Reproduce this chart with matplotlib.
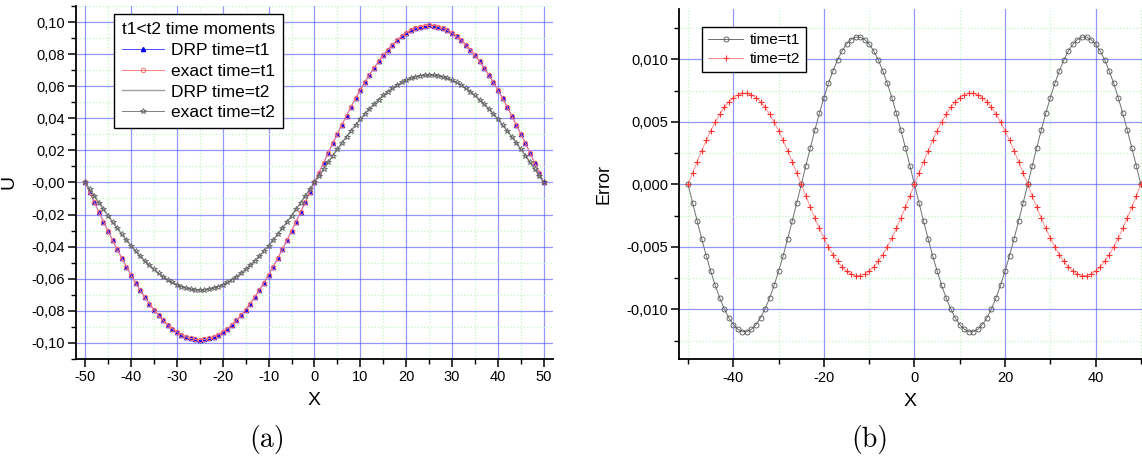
import matplotlib
matplotlib.use("Agg")
import matplotlib.pyplot as plt
from matplotlib.ticker import MultipleLocator, FuncFormatter

plt.rcParams['font.family'] = ['Liberation Sans', 'DejaVu Sans']
plt.rcParams['axes.unicode_minus'] = False

# grid points x = -50 ... 50
x = list(range(-50, 51))

# solution at time t1 (DRP and exact coincide at plot scale)
u_t1 = [
    0.0000, -0.0062, -0.0123, -0.0184, -0.0244, -0.0303, -0.0361, -0.0417, -0.0472, -0.0525,
    -0.0576, -0.0625, -0.0671, -0.0714, -0.0755, -0.0793, -0.0827, -0.0859, -0.0887, -0.0911,
    -0.0932, -0.0949, -0.0963, -0.0972, -0.0978, -0.0980,
    -0.0978, -0.0972, -0.0963, -0.0949, -0.0932, -0.0911, -0.0887, -0.0859, -0.0827, -0.0793,
    -0.0755, -0.0714, -0.0671, -0.0625, -0.0576, -0.0525, -0.0472, -0.0417, -0.0361, -0.0303,
    -0.0244, -0.0184, -0.0123, -0.0062,
    0.0000,
    0.0062, 0.0123, 0.0184, 0.0244, 0.0303, 0.0361, 0.0417, 0.0472, 0.0525, 0.0576,
    0.0625, 0.0671, 0.0714, 0.0755, 0.0793, 0.0827, 0.0859, 0.0887, 0.0911, 0.0932,
    0.0949, 0.0963, 0.0972, 0.0978, 0.0980,
    0.0978, 0.0972, 0.0963, 0.0949, 0.0932, 0.0911, 0.0887, 0.0859, 0.0827, 0.0793,
    0.0755, 0.0714, 0.0671, 0.0625, 0.0576, 0.0525, 0.0472, 0.0417, 0.0361, 0.0303,
    0.0244, 0.0184, 0.0123, 0.0062, 0.0000,
]

# solution at time t2
u_t2 = [
    0.0000, -0.0042, -0.0084, -0.0126, -0.0167, -0.0207, -0.0247, -0.0285, -0.0323, -0.0359,
    -0.0394, -0.0427, -0.0459, -0.0488, -0.0516, -0.0542, -0.0566, -0.0587, -0.0606, -0.0623,
    -0.0637, -0.0649, -0.0658, -0.0665, -0.0669, -0.0670,
    -0.0669, -0.0665, -0.0658, -0.0649, -0.0637, -0.0623, -0.0606, -0.0587, -0.0566, -0.0542,
    -0.0516, -0.0488, -0.0459, -0.0427, -0.0394, -0.0359, -0.0323, -0.0285, -0.0247, -0.0207,
    -0.0167, -0.0126, -0.0084, -0.0042,
    0.0000,
    0.0042, 0.0084, 0.0126, 0.0167, 0.0207, 0.0247, 0.0285, 0.0323, 0.0359, 0.0394,
    0.0427, 0.0459, 0.0488, 0.0516, 0.0542, 0.0566, 0.0587, 0.0606, 0.0623, 0.0637,
    0.0649, 0.0658, 0.0665, 0.0669, 0.0670,
    0.0669, 0.0665, 0.0658, 0.0649, 0.0637, 0.0623, 0.0606, 0.0587, 0.0566, 0.0542,
    0.0516, 0.0488, 0.0459, 0.0427, 0.0394, 0.0359, 0.0323, 0.0285, 0.0247, 0.0207,
    0.0167, 0.0126, 0.0084, 0.0042, 0.0000,
]

# DRP error at t1
err_t1 = [
    0.0, -0.00148, -0.00293, -0.00434, -0.00569, -0.00694, -0.00808, -0.00909, -0.00996, -0.01068,
    -0.01122, -0.01159, -0.01178, -0.01178, -0.01159, -0.01122, -0.01068, -0.00996, -0.00909, -0.00808,
    -0.00694, -0.00569, -0.00434, -0.00293, -0.00148, 0.0,
    0.00148, 0.00293, 0.00434, 0.00569, 0.00694, 0.00808, 0.00909, 0.00996, 0.01068, 0.01122,
    0.01159, 0.01178, 0.01178, 0.01159, 0.01122, 0.01068, 0.00996, 0.00909, 0.00808, 0.00694,
    0.00569, 0.00434, 0.00293, 0.00148,
    0.0,
    -0.00148, -0.00293, -0.00434, -0.00569, -0.00694, -0.00808, -0.00909, -0.00996, -0.01068, -0.01122,
    -0.01159, -0.01178, -0.01178, -0.01159, -0.01122, -0.01068, -0.00996, -0.00909, -0.00808, -0.00694,
    -0.00569, -0.00434, -0.00293, -0.00148, 0.0,
    0.00148, 0.00293, 0.00434, 0.00569, 0.00694, 0.00808, 0.00909, 0.00996, 0.01068, 0.01122,
    0.01159, 0.01178, 0.01178, 0.01159, 0.01122, 0.01068, 0.00996, 0.00909, 0.00808, 0.00694,
    0.00569, 0.00434, 0.00293, 0.00148, 0.0,
]

# DRP error at t2
err_t2 = [
    0.0, 0.00091, 0.00182, 0.00269, 0.00352, 0.00429, 0.00500, 0.00562, 0.00616, 0.00661,
    0.00694, 0.00717, 0.00729, 0.00729, 0.00717, 0.00694, 0.00661, 0.00616, 0.00562, 0.00500,
    0.00429, 0.00352, 0.00269, 0.00182, 0.00091, 0.0,
    -0.00091, -0.00182, -0.00269, -0.00352, -0.00429, -0.00500, -0.00562, -0.00616, -0.00661, -0.00694,
    -0.00717, -0.00729, -0.00729, -0.00717, -0.00694, -0.00661, -0.00616, -0.00562, -0.00500, -0.00429,
    -0.00352, -0.00269, -0.00182, -0.00091,
    0.0,
    0.00091, 0.00182, 0.00269, 0.00352, 0.00429, 0.00500, 0.00562, 0.00616, 0.00661, 0.00694,
    0.00717, 0.00729, 0.00729, 0.00717, 0.00694, 0.00661, 0.00616, 0.00562, 0.00500, 0.00429,
    0.00352, 0.00269, 0.00182, 0.00091, 0.0,
    -0.00091, -0.00182, -0.00269, -0.00352, -0.00429, -0.00500, -0.00562, -0.00616, -0.00661, -0.00694,
    -0.00717, -0.00729, -0.00729, -0.00717, -0.00694, -0.00661, -0.00616, -0.00562, -0.00500, -0.00429,
    -0.00352, -0.00269, -0.00182, -0.00091, 0.0,
]


def comma_fmt(decimals):
    return FuncFormatter(lambda v, pos: ('{:.%df}' % decimals).format(v).replace('.', ','))


def style_axes(ax):
    for side in ('top', 'right'):
        ax.spines[side].set_visible(False)
    for side in ('left', 'bottom'):
        ax.spines[side].set_linewidth(1.3)
    ax.tick_params(which='major', direction='out', length=6, width=1.1, labelsize=10.5, pad=2)
    ax.tick_params(which='minor', direction='out', length=3.5, width=1.0)
    ax.grid(which='major', color='#5050ff', alpha=0.6, linewidth=0.9)
    ax.grid(which='minor', color='#c4f4c4', linestyle=':', linewidth=0.9)
    ax.set_axisbelow(True)


fig = plt.figure(figsize=(11.42, 4.59), dpi=100)

# (a) solution
ax1 = fig.add_axes([0.0665, 0.218, 0.4177, 0.769])
ax1.plot(x, u_t1, color='#5050ff', lw=0.7, marker='^', ms=3.0, mfc='#0000ff', mec='#0000ff',
         label='DRP time=t1')
ax1.plot(x, u_t1, color='#ff8080', lw=0.7, marker='o', ms=3.2, mfc='none', mec='#ff7070', mew=0.7,
         label='exact time=t1')
ax1.plot(x, u_t2, color='#a0a0a0', lw=1.0, label='DRP time=t2')
ax1.plot(x, u_t2, color='#808080', lw=0.7, marker='*', ms=4.3, mfc='none', mec='#606060', mew=0.6,
         label='exact time=t2')
ax1.set_xlim(-52, 52)
ax1.set_ylim(-0.11, 0.11)
ax1.xaxis.set_major_locator(MultipleLocator(10))
ax1.xaxis.set_minor_locator(MultipleLocator(5))
ax1.yaxis.set_major_locator(MultipleLocator(0.02))
ax1.yaxis.set_minor_locator(MultipleLocator(0.01))
ax1.yaxis.set_major_formatter(comma_fmt(2))
style_axes(ax1)
ax1.set_xlabel('X', fontsize=14, labelpad=6)
ax1.set_ylabel('U', fontsize=14, labelpad=10)
leg1 = ax1.legend(title='t1<t2 time moments', loc='upper left', bbox_to_anchor=(0.08, 0.977),
                  borderaxespad=0, fontsize=12.5, title_fontsize=12.5, handlelength=2.4,
                  handletextpad=0.4, borderpad=0.45, labelspacing=0.33, fancybox=False,
                  framealpha=1, edgecolor='black')
leg1.get_frame().set_linewidth(1.0)
leg1._legend_box.align = 'left'

# (b) error
ax2 = fig.add_axes([0.5946, 0.217, 0.4054, 0.7625])
ax2.plot(x, err_t1, color='#707070', lw=0.7, marker='o', ms=3.6, mfc='none', mec='#505050', mew=0.6,
         label='time=t1')
ax2.plot(x, err_t2, color='#ff9090', lw=0.7, marker='+', ms=5, mec='#ff3030', mew=0.8,
         label='time=t2')
ax2.set_xlim(-52, 50.25)
ax2.set_ylim(-0.014, 0.014)
ax2.xaxis.set_major_locator(MultipleLocator(20))
ax2.xaxis.set_minor_locator(MultipleLocator(10))
ax2.yaxis.set_major_locator(MultipleLocator(0.005))
ax2.yaxis.set_minor_locator(MultipleLocator(0.0025))
ax2.yaxis.set_major_formatter(comma_fmt(3))
style_axes(ax2)
ax2.set_xlabel('X', fontsize=14, labelpad=6)
ax2.set_ylabel('Error', fontsize=13, labelpad=10)
leg2 = ax2.legend(loc='upper left', bbox_to_anchor=(0.05, 0.949), borderaxespad=0, fontsize=11,
                  handlelength=2.3, handletextpad=0.4, borderpad=0.4, labelspacing=0.3,
                  fancybox=False, framealpha=1, edgecolor='black')
leg2.get_frame().set_linewidth(1.0)

fig.text(267 / 1142, 1 - 440 / 459, '(a)', family='cmr10', fontsize=20, ha='center', va='center')
fig.text(870 / 1142, 1 - 440 / 459, '(b)', family='cmr10', fontsize=20, ha='center', va='center')

fig.savefig('out.png', dpi=100)
